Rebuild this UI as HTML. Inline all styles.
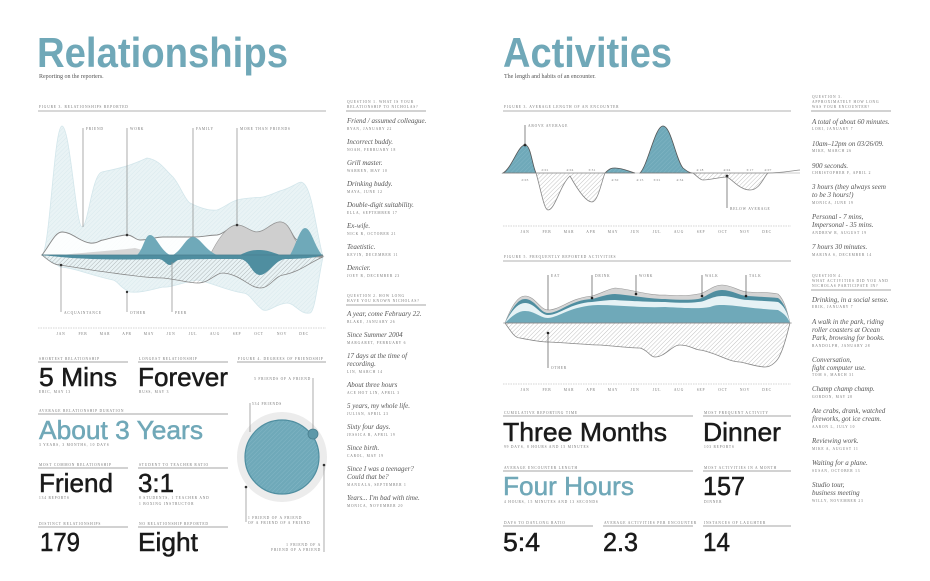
<!DOCTYPE html>
<html><head><meta charset="utf-8">
<style>
html,body{margin:0;padding:0;background:#fff;}
svg{display:block;}
.t{font-family:"Liberation Sans",sans-serif;font-weight:bold;}
.n{font-family:"Liberation Sans",sans-serif;fill:#1a1a1a;stroke:#1a1a1a;stroke-width:0.5;}
.cap{font-family:"Liberation Serif",serif;font-size:3.6px;fill:#777;letter-spacing:0.8px;stroke:none;}
.it{font-family:"Liberation Serif",serif;font-style:italic;font-size:7px;fill:#555;}
.sub{font-family:"Liberation Serif",serif;font-size:6px;fill:#555;}
</style></head><body>
<svg width="930" height="581" viewBox="0 0 930 581" xmlns="http://www.w3.org/2000/svg">
<defs>
<pattern id="h" width="3" height="3" patternUnits="userSpaceOnUse" patternTransform="rotate(45)">
<line x1="0" y1="0" x2="0" y2="3" stroke="#999" stroke-width="0.6"/></pattern>
<pattern id="hl" width="3" height="3" patternUnits="userSpaceOnUse" patternTransform="rotate(45)">
<rect width="3" height="3" fill="#e9f3f5"/><line x1="0" y1="0" x2="0" y2="3" stroke="#cfe3e8" stroke-width="0.6"/></pattern>
<pattern id="ht" width="3" height="3" patternUnits="userSpaceOnUse" patternTransform="rotate(45)">
<rect width="3" height="3" fill="#6fa9b9"/><line x1="0" y1="0" x2="0" y2="3" stroke="#8abccb" stroke-width="0.7"/></pattern>
</defs>
<rect width="930" height="581" fill="#fff"/>

<!-- ============ LEFT PAGE ============ -->
<text class="t" x="37" y="67" font-size="42" fill="#70a8b8" textLength="251" lengthAdjust="spacingAndGlyphs">Relationships</text>
<text class="sub" x="39" y="78">Reporting on the reporters.</text>
<text class="cap" x="39" y="108">FIGURE 3. RELATIONSHIPS REPORTED</text>
<line x1="38" y1="111" x2="326" y2="111" stroke="#999" stroke-width="0.8"/>

<path d="M42,255 C50,250 54,126 62,126 C70,126 76,227 82,227 C88,227 92,174 102,172 C115,169 125,168 147,158 C160,160 165,170 173,177 C180,185 185,200 190,203 C200,208 210,211 217,210 C225,207 230,202 237,200 C250,197 258,198 263,197 C272,195 278,191 283,190 C295,186 300,180 303,183 C312,188 316,230 323,257 C318,280 315,312 310,313 C300,315 295,303 287,303 C275,304 270,312 263,310 C255,305 250,293 243,293 C225,290 210,282 197,280 C180,283 170,288 163,287 C150,290 140,293 130,292 C120,288 118,281 113,280 C90,275 75,268 60,267 Z" fill="url(#hl)" stroke="#d3e6eb" stroke-width="0.8"/>
<path d="M42,255 C50,262 55,265 60,265 C80,268 95,271 113,273 C135,276 150,278 163,278 C180,280 190,283 197,283 C210,283 215,273 223,273 C240,274 250,288 260,288 C270,288 275,276 283,275 C300,272 310,262 323,257 Z" fill="url(#h)" stroke="#888" stroke-width="0.8"/>
<path d="M42,255 C50,245 55,232 62,232 C72,232 80,242 90,243 C97,244 100,240 103,240 C112,238 120,235 127,235 C133,235 135,240 140,240 C150,240 155,237 163,237 C175,237 185,237 193,237 C202,237 210,235 217,235 C225,234 230,225 237,225 C245,225 250,232 257,232 C265,232 272,222 280,222 C290,222 292,238 297,240 C305,244 315,250 323,256 Z" fill="#fff" fill-opacity="0.85" stroke="#888" stroke-width="0.9"/>
<path d="M60,255 C90,252 120,250 135,248 C150,252 160,255 170,255 Z" fill="#d6d6d6"/>
<path d="M210,255 C215,245 225,226 237,225 C245,225 250,232 257,232 C265,232 272,222 280,222 C290,222 292,238 297,242 C305,248 312,252 318,255 Z" fill="#cfcfcf" stroke="#999" stroke-width="0.6"/>
<path d="M137,255 C143,250 145,235 150,235 C156,235 160,250 170,255 Z" fill="#6fa9b9"/>
<path d="M173,255 C182,250 186,237 193,237 C200,237 205,250 217,255 Z" fill="#6fa9b9"/>
<path d="M290,255 C296,245 300,228 305,228 C311,228 314,245 322,255 Z" fill="#6fa9b9"/>
<path d="M240,255 C250,250 255,250 260,250 C266,250 272,252 280,255 Z" fill="#4f8ea0"/>
<path d="M42,255 L323,255 C315,258 300,259 285,259 C275,260 268,275 260,275 C252,275 250,260 240,259 C210,259 185,259 178,260 C174,262 172,265 170,265 C166,265 164,259 158,259 C120,260 80,260 42,255 Z" fill="#4f8ea0"/>
<line x1="42" y1="255" x2="323" y2="255" stroke="#4a7f8f" stroke-width="0.8"/>

<g stroke="#888" stroke-width="0.7">
<line x1="83" y1="128" x2="83" y2="227"/><line x1="127" y1="128" x2="127" y2="235"/>
<line x1="193" y1="128" x2="193" y2="237"/><line x1="237" y1="128" x2="237" y2="225"/>
<line x1="61" y1="265" x2="61" y2="312"/><line x1="127" y1="292" x2="127" y2="312"/>
<line x1="172" y1="262" x2="172" y2="312"/>
</g>
<g fill="#333"><circle cx="127" cy="235" r="1.3"/><circle cx="237" cy="225" r="1.3"/><circle cx="61" cy="265" r="1.3"/><circle cx="127" cy="292" r="1.2"/></g>
<text class="cap" x="86" y="130">FRIEND</text><text class="cap" x="130" y="130">WORK</text>
<text class="cap" x="196" y="130">FAMILY</text><text class="cap" x="240" y="130">MORE THAN FRIENDS</text>
<text class="cap" x="64" y="314">ACQUAINTANCE</text><text class="cap" x="130" y="314">OTHER</text><text class="cap" x="175" y="314">PEER</text>

<line x1="38" y1="328" x2="326" y2="328" stroke="#aaa" stroke-width="0.6" stroke-dasharray="1.5,1"/>
<g class="cap" text-anchor="middle">
<text x="61" y="335">JAN</text><text x="83" y="335">FEB</text><text x="105" y="335">MAR</text><text x="127" y="335">APR</text><text x="149" y="335">MAY</text><text x="171" y="335">JUN</text><text x="193" y="335">JUL</text><text x="215" y="335">AUG</text><text x="237" y="335">SEP</text><text x="259" y="335">OCT</text><text x="282" y="335">NOV</text><text x="304" y="335">DEC</text>
</g>

<g stroke="#888" stroke-width="0.8">
<line x1="38" y1="362" x2="128" y2="362"/><line x1="138" y1="362" x2="228" y2="362"/><line x1="237" y1="362" x2="326" y2="362"/>
<line x1="38" y1="414" x2="228" y2="414"/>
<line x1="38" y1="468" x2="128" y2="468"/><line x1="138" y1="468" x2="228" y2="468"/>
<line x1="38" y1="527" x2="128" y2="527"/><line x1="138" y1="527" x2="228" y2="527"/>
</g>
<text class="cap" x="39" y="360">SHORTEST RELATIONSHIP</text><text class="cap" x="139" y="360">LONGEST RELATIONSHIP</text><text class="cap" x="238" y="360">FIGURE 4. DEGREES OF FRIENDSHIP</text>
<text class="cap" x="39" y="412">AVERAGE RELATIONSHIP DURATION</text>
<text class="cap" x="39" y="466">MOST COMMON RELATIONSHIP</text><text class="cap" x="139" y="466">STUDENT TO TEACHER RATIO</text>
<text class="cap" x="39" y="525">DISTINCT RELATIONSHIPS</text><text class="cap" x="139" y="525">NO RELATIONSHIP REPORTED</text>

<text class="n" x="39" y="386" font-size="26" textLength="78" lengthAdjust="spacingAndGlyphs">5 Mins</text>
<text class="n" x="138" y="386" font-size="26" textLength="90" lengthAdjust="spacingAndGlyphs">Forever</text>
<text class="cap" x="39" y="393">ERIC, MAY 13</text><text class="cap" x="139" y="393">RUSS, MAY 3</text>
<text class="n" x="39" y="439" font-size="26" style="fill:#70a8b8;stroke:#70a8b8" textLength="164" lengthAdjust="spacingAndGlyphs">About 3 Years</text>
<text class="cap" x="39" y="446">3 YEARS, 3 MONTHS, 10 DAYS</text>
<text class="n" x="39" y="492" font-size="26" textLength="74" lengthAdjust="spacingAndGlyphs">Friend</text>
<text class="n" x="138" y="492" font-size="26" textLength="36" lengthAdjust="spacingAndGlyphs">3:1</text>
<text class="cap" x="39" y="499">134 REPORTS</text><text class="cap" x="139" y="499">8 STUDENTS, 1 TEACHER AND</text><text class="cap" x="139" y="505">1 BOXING INSTRUCTOR</text>
<text class="n" x="40" y="551" font-size="26" textLength="40" lengthAdjust="spacingAndGlyphs">179</text>
<text class="n" x="138" y="551" font-size="26" textLength="60" lengthAdjust="spacingAndGlyphs">Eight</text>

<circle cx="282" cy="457" r="45" fill="#ececec"/>
<circle cx="282" cy="457" r="37" fill="url(#ht)" stroke="#4f8ea0" stroke-width="1.2"/>
<circle cx="313" cy="434" r="5" fill="#5d98a9" stroke="#4a7f8f" stroke-width="0.8"/>
<g stroke="#888" stroke-width="0.7">
<line x1="313" y1="378" x2="313" y2="429"/><line x1="250" y1="403" x2="250" y2="432"/>
<line x1="246" y1="487" x2="246" y2="522"/><line x1="324" y1="465" x2="324" y2="552"/>
</g>
<circle cx="246" cy="487" r="1.3" fill="#333"/><circle cx="324" cy="465" r="1.3" fill="#333"/>
<text class="cap" x="311" y="380" text-anchor="end">5 FRIENDS OF A FRIEND</text>
<text class="cap" x="252" y="405">534 FRIENDS</text>
<text class="cap" x="248" y="519">1 FRIEND OF A FRIEND</text><text class="cap" x="248" y="524">OF A FRIEND OF A FRIEND</text>
<text class="cap" x="321" y="546" text-anchor="end">1 FRIEND OF A</text><text class="cap" x="321" y="551" text-anchor="end">FRIEND OF A FRIEND</text>

<text class="cap" x="347" y="103">QUESTION 1. WHAT IS YOUR</text><text class="cap" x="347" y="108">RELATIONSHIP TO NICHOLAS?</text>
<line x1="346" y1="111" x2="426" y2="111" stroke="#888" stroke-width="0.7"/>
<g>
<text class="it" x="347" y="123">Friend / assumed colleague.</text><text class="cap" x="347" y="130">RYAN, JANUARY 22</text>
<text class="it" x="347" y="144">Incorrect buddy.</text><text class="cap" x="347" y="151">NOAH, FEBRUARY 18</text>
<text class="it" x="347" y="165">Grill master.</text><text class="cap" x="347" y="172">WARREN, MAY 10</text>
<text class="it" x="347" y="186">Drinking buddy.</text><text class="cap" x="347" y="193">MAYA, JUNE 12</text>
<text class="it" x="347" y="207">Double-digit suitability.</text><text class="cap" x="347" y="214">ELLA, SEPTEMBER 17</text>
<text class="it" x="347" y="228">Ex-wife.</text><text class="cap" x="347" y="235">NICK R, OCTOBER 21</text>
<text class="it" x="347" y="249">Teaetistic.</text><text class="cap" x="347" y="256">KEVIN, DECEMBER 11</text>
<text class="it" x="347" y="270">Dencier.</text><text class="cap" x="347" y="277">JOEY R, DECEMBER 23</text>
</g>
<text class="cap" x="347" y="297">QUESTION 2. HOW LONG</text><text class="cap" x="347" y="302">HAVE YOU KNOWN NICHOLAS?</text>
<line x1="346" y1="305" x2="426" y2="305" stroke="#888" stroke-width="0.7"/>
<g>
<text class="it" x="347" y="316">A year, come February 22.</text><text class="cap" x="347" y="323">BLAKE, JANUARY 26</text>
<text class="it" x="347" y="337">Since Summer 2004</text><text class="cap" x="347" y="344">MARGARET, FEBRUARY 6</text>
<text class="it" x="347" y="358">17 days at the time of</text><text class="it" x="347" y="366">recording.</text><text class="cap" x="347" y="373">LIN, MARCH 14</text>
<text class="it" x="347" y="387">About three hours</text><text class="cap" x="347" y="394">ACE HOT LIN, APRIL 3</text>
<text class="it" x="347" y="408">5 years, my whole life.</text><text class="cap" x="347" y="415">JULIAN, APRIL 23</text>
<text class="it" x="347" y="429">Sixty four days.</text><text class="cap" x="347" y="436">JESSICA B, APRIL 19</text>
<text class="it" x="347" y="450">Since birth.</text><text class="cap" x="347" y="457">CAROL, MAY 19</text>
<text class="it" x="347" y="471">Since I was a teenager?</text><text class="it" x="347" y="479">Could that be?</text><text class="cap" x="347" y="486">MANUALA, SEPTEMBER 1</text>
<text class="it" x="347" y="500">Years... I'm bad with time.</text><text class="cap" x="347" y="507">MONICA, NOVEMBER 20</text>
</g>

<!-- ============ RIGHT PAGE ============ -->
<text class="t" x="503" y="67" font-size="42" fill="#70a8b8" textLength="169" lengthAdjust="spacingAndGlyphs">Activities</text>
<text class="sub" x="504" y="78">The length and habits of an encounter.</text>
<text class="cap" x="504" y="108">FIGURE 3. AVERAGE LENGTH OF AN ENCOUNTER</text>
<line x1="503" y1="111" x2="791" y2="111" stroke="#999" stroke-width="0.8"/>

<g stroke="#555" stroke-width="0.8">
<path d="M503,173 C512,168 518,145 525,145 C531,145 532,165 536,173 Z" fill="url(#ht)"/>
<path d="M605,173 C610,168 612,168 615,168 C622,168 628,171 635,173 Z" fill="url(#ht)"/>
<path d="M640,173 C648,165 655,126 663,126 C671,126 676,160 683,168 C688,172 690,173 693,173 Z" fill="url(#ht)"/>
</g>
<g fill="url(#h)" stroke="#888" stroke-width="0.8">
<path d="M536,173 C541,190 544,210 548,210 C555,210 560,185 570,176 C575,185 585,202 592,202 C598,202 602,180 605,173 Z"/>
<path d="M693,173 C697,176 700,180 703,180 C710,180 720,177 727,177 C733,180 740,190 750,190 C760,190 764,176 768,173 Z"/>
</g>
<line x1="503" y1="173" x2="800" y2="173" stroke="#999" stroke-width="0.6"/>
<path d="M768,173 C780,173 790,171 800,170" fill="none" stroke="#888" stroke-width="0.8"/>
<circle cx="525" cy="145" r="1.4" fill="#222"/><circle cx="727" cy="176" r="1.4" fill="#222"/>
<line x1="525" y1="125" x2="525" y2="145" stroke="#555" stroke-width="0.7"/>
<line x1="727" y1="176" x2="727" y2="208" stroke="#555" stroke-width="0.7"/>
<text class="cap" x="528" y="127">ABOVE AVERAGE</text><text class="cap" x="730" y="210">BELOW AVERAGE</text>
<g class="cap" text-anchor="middle" style="font-size:3.4px;letter-spacing:0.3px">
<text x="525" y="181">2:03</text><text x="545" y="171">2:01</text><text x="570" y="171">4:04</text><text x="592" y="171">3:31</text>
<text x="615" y="181">4:50</text><text x="640" y="181">4:15</text><text x="657" y="181">3:01</text><text x="680" y="181">4:34</text>
<text x="700" y="171">4:18</text><text x="727" y="171">4:04</text><text x="750" y="171">3:17</text><text x="768" y="171">4:07</text>
</g>
<line x1="503" y1="226" x2="791" y2="226" stroke="#aaa" stroke-width="0.6" stroke-dasharray="1.5,1"/>
<g class="cap" text-anchor="middle">
<text x="525" y="233">JAN</text><text x="547" y="233">FEB</text><text x="569" y="233">MAR</text><text x="591" y="233">APR</text><text x="613" y="233">MAY</text><text x="635" y="233">JUN</text><text x="657" y="233">JUL</text><text x="679" y="233">AUG</text><text x="701" y="233">SEP</text><text x="723" y="233">OCT</text><text x="745" y="233">NOV</text><text x="767" y="233">DEC</text>
</g>

<text class="cap" x="504" y="258">FIGURE 5. FREQUENTLY REPORTED ACTIVITIES</text>
<line x1="503" y1="261" x2="791" y2="261" stroke="#999" stroke-width="0.8"/>
<path d="M505,323 C512,305 518,296 525,296 C535,296 540,310 548,310 C560,310 570,298 592,296 C600,294 608,289 615,288 C630,289 650,296 665,295 C680,296 690,296 698,294 C705,294 712,285 722,285 C732,285 740,292 748,292 C760,293 770,292 778,294 C785,300 788,315 790,323 Z" fill="#d4d4d4" stroke="#999" stroke-width="0.6"/>
<path d="M505,323 C512,308 518,299 525,299 C535,299 540,313 548,313 C560,313 570,300 592,299 C600,297 608,294 615,294 C630,295 650,299 665,299 C680,300 690,300 698,299 C705,298 712,290 722,290 C732,290 740,296 748,296 C760,297 770,297 778,298 C785,303 788,315 790,323 Z" fill="#4f8ea0"/>
<path d="M505,323 C512,310 518,303 525,303 C535,303 540,315 548,315 C560,315 570,303 592,302 C600,301 608,300 615,300 C630,301 650,302 665,302 C680,303 690,303 698,302 C705,302 712,296 722,296 C732,296 740,300 748,300 C760,301 770,301 778,302 C785,306 788,315 790,323 Z" fill="#e6f2f5"/>
<path d="M505,323 C512,316 518,311 525,311 C535,311 540,318 548,318 C560,317 570,306 598,305 C620,305 640,308 665,307 C685,308 700,309 710,307 C715,305 718,305 722,305 C735,305 745,308 778,310 C785,314 788,318 790,323 Z" fill="#6fa9b9"/>
<path d="M505,323 C512,333 515,338 520,338 C530,340 540,342 548,342 C570,343 590,345 600,345 C615,346 630,348 640,348 C648,350 650,357 655,357 C665,357 672,345 680,345 C690,345 695,350 700,350 C715,352 728,362 740,362 C750,364 758,367 765,367 C772,367 778,360 780,355 C785,345 788,330 790,323 Z" fill="url(#h)" stroke="#888" stroke-width="0.8"/>
<line x1="503" y1="323" x2="792" y2="323" stroke="#888" stroke-width="0.6"/>
<g stroke="#555" stroke-width="0.7">
<line x1="548" y1="275" x2="548" y2="310"/><line x1="592" y1="275" x2="592" y2="298"/><line x1="636" y1="275" x2="636" y2="294"/>
<line x1="702" y1="275" x2="702" y2="296"/><line x1="746" y1="275" x2="746" y2="296"/><line x1="548" y1="333" x2="548" y2="368"/>
</g>
<g fill="#222"><circle cx="548" cy="333" r="1.3"/><circle cx="592" cy="298" r="1.3"/><circle cx="636" cy="294" r="1.3"/><circle cx="702" cy="296" r="1.3"/><circle cx="746" cy="296" r="1.3"/></g>
<text class="cap" x="551" y="277">EAT</text><text class="cap" x="595" y="277">DRINK</text><text class="cap" x="639" y="277">WORK</text>
<text class="cap" x="705" y="277">WALK</text><text class="cap" x="749" y="277">TALK</text><text class="cap" x="551" y="369">OTHER</text>
<line x1="503" y1="384" x2="791" y2="384" stroke="#aaa" stroke-width="0.6" stroke-dasharray="1.5,1"/>
<g class="cap" text-anchor="middle">
<text x="525" y="391">JAN</text><text x="547" y="391">FEB</text><text x="569" y="391">MAR</text><text x="591" y="391">APR</text><text x="613" y="391">MAY</text><text x="635" y="391">JUN</text><text x="657" y="391">JUL</text><text x="679" y="391">AUG</text><text x="701" y="391">SEP</text><text x="723" y="391">OCT</text><text x="745" y="391">NOV</text><text x="767" y="391">DEC</text>
</g>

<g stroke="#888" stroke-width="0.8">
<line x1="503" y1="416" x2="693" y2="416"/><line x1="703" y1="416" x2="791" y2="416"/>
<line x1="503" y1="471" x2="693" y2="471"/><line x1="703" y1="471" x2="791" y2="471"/>
<line x1="503" y1="526" x2="593" y2="526"/><line x1="603" y1="526" x2="693" y2="526"/><line x1="703" y1="526" x2="791" y2="526"/>
</g>
<text class="cap" x="504" y="414">CUMULATIVE REPORTING TIME</text><text class="cap" x="704" y="414">MOST FREQUENT ACTIVITY</text>
<text class="cap" x="504" y="469">AVERAGE ENCOUNTER LENGTH</text><text class="cap" x="704" y="469">MOST ACTIVITIES IN A MONTH</text>
<text class="cap" x="504" y="524">DAYS TO DAYLONG RATIO</text><text class="cap" x="604" y="524">AVERAGE ACTIVITIES PER ENCOUNTER</text><text class="cap" x="704" y="524">INSTANCES OF LAUGHTER</text>
<text class="n" x="503" y="441" font-size="26" textLength="164" lengthAdjust="spacingAndGlyphs">Three Months</text>
<text class="n" x="703" y="441" font-size="26" textLength="78" lengthAdjust="spacingAndGlyphs">Dinner</text>
<text class="cap" x="504" y="448">99 DAYS, 8 HOURS AND 15 MINUTES</text><text class="cap" x="704" y="448">103 REPORTS</text>
<text class="n" x="503" y="495" font-size="26" style="fill:#70a8b8;stroke:#70a8b8" textLength="131" lengthAdjust="spacingAndGlyphs">Four Hours</text>
<text class="n" x="703" y="495" font-size="26" textLength="42" lengthAdjust="spacingAndGlyphs">157</text>
<text class="cap" x="504" y="503">4 HOURS, 15 MINUTES AND 13 SECONDS</text><text class="cap" x="704" y="503">DINNER</text>
<text class="n" x="503" y="551" font-size="26" textLength="37" lengthAdjust="spacingAndGlyphs">5:4</text>
<text class="n" x="603" y="551" font-size="26" textLength="35" lengthAdjust="spacingAndGlyphs">2.3</text>
<text class="n" x="703" y="551" font-size="26" textLength="27" lengthAdjust="spacingAndGlyphs">14</text>

<text class="cap" x="812" y="98">QUESTION 3.</text><text class="cap" x="812" y="103">APPROXIMATELY HOW LONG</text><text class="cap" x="812" y="108">WAS YOUR ENCOUNTER?</text>
<line x1="811" y1="111" x2="891" y2="111" stroke="#888" stroke-width="0.7"/>
<g>
<text class="it" x="812" y="124">A total of about 60 minutes.</text><text class="cap" x="812" y="130">LORI, JANUARY 7</text>
<text class="it" x="812" y="146">10am–12pm on 03/26/09.</text><text class="cap" x="812" y="152">MIKE, MARCH 26</text>
<text class="it" x="812" y="168">900 seconds.</text><text class="cap" x="812" y="174">CHRISTOPHER F, APRIL 2</text>
<text class="it" x="812" y="189">3 hours (they always seem</text><text class="it" x="812" y="197">to be 3 hours!)</text><text class="cap" x="812" y="204">MONICA, JUNE 19</text>
<text class="it" x="812" y="219">Personal - 7 mins,</text><text class="it" x="812" y="227">Impersonal - 35 mins.</text><text class="cap" x="812" y="234">ANDREW R, AUGUST 19</text>
<text class="it" x="812" y="249">7 hours 30 minutes.</text><text class="cap" x="812" y="256">MARINA S, DECEMBER 14</text>
</g>
<text class="cap" x="812" y="277">QUESTION 4.</text><text class="cap" x="812" y="282">WHAT ACTIVITIES DID YOU AND</text><text class="cap" x="812" y="287">NICHOLAS PARTICIPATE IN?</text>
<line x1="811" y1="290" x2="891" y2="290" stroke="#888" stroke-width="0.7"/>
<g>
<text class="it" x="812" y="302">Drinking, in a social sense.</text><text class="cap" x="812" y="308">ERIK, JANUARY 7</text>
<text class="it" x="812" y="324">A walk in the park, riding</text><text class="it" x="812" y="332">roller coasters at Ocean</text><text class="it" x="812" y="340">Park, browsing for books.</text><text class="cap" x="812" y="347">RANDOLPH, JANUARY 28</text>
<text class="it" x="812" y="362">Conversation,</text><text class="it" x="812" y="370">fight computer use.</text><text class="cap" x="812" y="376">TOM S, MARCH 31</text>
<text class="it" x="812" y="391">Champ champ champ.</text><text class="cap" x="812" y="398">GORDON, MAY 28</text>
<text class="it" x="812" y="413">Ate crabs, drank, watched</text><text class="it" x="812" y="421">fireworks, got ice cream.</text><text class="cap" x="812" y="428">AARON L, JULY 10</text>
<text class="it" x="812" y="443">Reviewing work.</text><text class="cap" x="812" y="450">MIKE A, AUGUST 11</text>
<text class="it" x="812" y="465">Waiting for a plane.</text><text class="cap" x="812" y="472">SUSAN, OCTOBER 13</text>
<text class="it" x="812" y="487">Studio tour,</text><text class="it" x="812" y="495">business meeting</text><text class="cap" x="812" y="502">WILLY, NOVEMBER 23</text>
</g>
</svg>
</body></html>
